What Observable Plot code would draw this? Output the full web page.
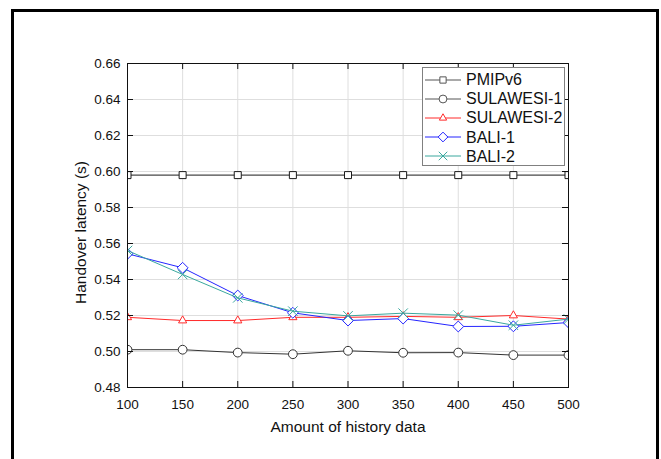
<!DOCTYPE html>
<html><head><meta charset="utf-8">
<script src="https://cdn.jsdelivr.net/npm/d3@7"></script>
<script src="https://cdn.jsdelivr.net/npm/@observablehq/plot@0.6"></script>
<style>
body{margin:0;background:#fff;font-family:Arial,"Liberation Sans",sans-serif;color:#111}
#wrap{position:relative;width:661px;height:459px;overflow:hidden;background:#fff}
#border{position:absolute;left:11px;top:9px;width:648px;height:470px;box-sizing:border-box;border:3px solid #000;border-bottom:none;pointer-events:none}
#legend{position:absolute;left:422px;top:67px;width:143px;height:99px;box-sizing:border-box;border:1px solid #808080;background:#fff;padding-top:2px}
.row{display:flex;align-items:center;height:19.2px;font-size:16px;line-height:19px}
.row svg{display:block;margin-left:2px;margin-right:5px}
</style></head><body>
<div id="wrap"><div id="chart"></div><div id="legend"></div><div id="border"></div></div>
<script>
// ---- data ----
const historyAmounts = [100, 150, 200, 250, 300, 350, 400, 450, 500];
const seriesNames = ["PMIPv6", "SULAWESI-1", "SULAWESI-2", "BALI-1", "BALI-2"];
const pmipv6    = [0.598, 0.598, 0.598, 0.598, 0.598, 0.598, 0.598, 0.598, 0.598];
const sulawesi1 = [0.501, 0.501, 0.4994, 0.4985, 0.5004, 0.4993, 0.4994, 0.498, 0.498];
const sulawesi2 = [0.519, 0.5172, 0.5172, 0.519, 0.519, 0.5195, 0.519, 0.5200, 0.518];
const bali1     = [0.5543, 0.5465, 0.5311, 0.5215, 0.5172, 0.5183, 0.5139, 0.514, 0.5161];
const bali2     = [0.5561, 0.5428, 0.5298, 0.5224, 0.5198, 0.5213, 0.5202, 0.5146, 0.518];
const xTicks = [100, 150, 200, 250, 300, 350, 400, 450, 500];
const yTicks = [0.48, 0.50, 0.52, 0.54, 0.56, 0.58, 0.60, 0.62, 0.64, 0.66];
const xTitle = "Amount of history data";
const yTitle = "Handover latency (s)";

const seriesValues = [pmipv6, sulawesi1, sulawesi2, bali1, bali2];
const styles = {
  "PMIPv6":     {color: "#1a1a1a", legendColor: "#555", symbol: "square",   r: 3.95},
  "SULAWESI-1": {color: "#333333", legendColor: "#555", symbol: "circle",   r: 4.4},
  "SULAWESI-2": {color: "#ff2a2a", legendColor: "#ff2a2a", symbol: "triangle2", r: 3.9},
  "BALI-1":     {color: "#2525ff", legendColor: "#2525ff", symbol: "diamond2", r: 4.9},
  "BALI-2":     {color: "#3aa89e", legendColor: "#3aa89e", symbol: "times",    r: 4.4}
};
const table = seriesNames.flatMap((name, i) =>
  historyAmounts.map((x, j) => ({series: name, x, y: seriesValues[i][j]})));

const W = 661, H = 459, mL = 127, mR = 93, mT = 63, mB = 72;
const innerW = W - mL - mR, innerH = H - mT - mB;
const tick = 6;

const seriesMarks = seriesNames.flatMap(name => {
  const s = styles[name];
  const d = table.filter(t => t.series === name);
  return [
    Plot.line(d, {x: "x", y: "y", stroke: s.color, strokeWidth: 1, clip: true}),
    Plot.dot(d, {x: "x", y: "y", symbol: () => s.symbol, r: s.r, stroke: s.color, fill: s.symbol === "times" ? "none" : "white", strokeWidth: 1, clip: true})
  ];
});

const chart = Plot.plot({
  width: W, height: H,
  marginLeft: mL, marginRight: mR, marginTop: mT, marginBottom: mB,
  x: {domain: [100, 500]},
  y: {domain: [0.48, 0.66]},
  symbol: {type: "identity"},
  style: {fontFamily: "Arial, 'Liberation Sans', sans-serif", fontSize: "13px", background: "white", overflow: "visible", color: "#111"},
  marks: [
    Plot.gridX(xTicks, {stroke: "#dedede", strokeOpacity: 1}),
    Plot.gridY(yTicks, {stroke: "#dedede", strokeOpacity: 1}),
    ...seriesMarks,
    Plot.ruleX(xTicks, {x: d => d, insetTop: innerH - tick, stroke: "#111"}),
    Plot.ruleX(xTicks, {x: d => d, insetBottom: innerH - tick, stroke: "#111"}),
    Plot.ruleY(yTicks, {y: d => d, insetRight: innerW - tick, stroke: "#111"}),
    Plot.ruleY(yTicks, {y: d => d, insetLeft: innerW - tick, stroke: "#111"}),
    Plot.frame({stroke: "#111"}),
    Plot.axisX(xTicks, {tickSize: 0, tickPadding: 12, fontSize: 13.5, label: null}),
    Plot.axisY(yTicks, {tickSize: 0, tickPadding: 7, fontSize: 13.5, tickFormat: d3.format(".2f"), label: null}),
    Plot.text([xTitle], {frameAnchor: "bottom", dy: 44, fontSize: 15.5, fill: "#111"}),
    Plot.text([yTitle], {frameAnchor: "left", textAnchor: "middle", dx: -46, dy: 7, rotate: -90, fontSize: 15.5, fill: "#111"})
  ]
});
document.getElementById("chart").appendChild(chart);

// ---- legend ----
const legend = d3.select("#legend");
const symMap = {square: d3.symbolSquare, circle: d3.symbolCircle, triangle2: d3.symbolTriangle2, diamond2: d3.symbolDiamond2, times: d3.symbolTimes};
seriesNames.forEach(name => {
  const s = styles[name];
  const row = legend.append("div").attr("class", "row");
  const svg = row.append("svg").attr("width", 36).attr("height", 14);
  svg.append("line").attr("x1", 0).attr("x2", 36).attr("y1", 7).attr("y2", 7).attr("stroke", s.legendColor).attr("stroke-width", 1);
  svg.append("path").attr("transform", "translate(18,7)")
    .attr("d", d3.symbol(symMap[s.symbol], s.r * s.r * Math.PI * 0.8)())
    .attr("fill", s.symbol === "times" ? "none" : "white").attr("stroke", s.legendColor);
  row.append("span").text(name);
});
</script>
</body></html>
